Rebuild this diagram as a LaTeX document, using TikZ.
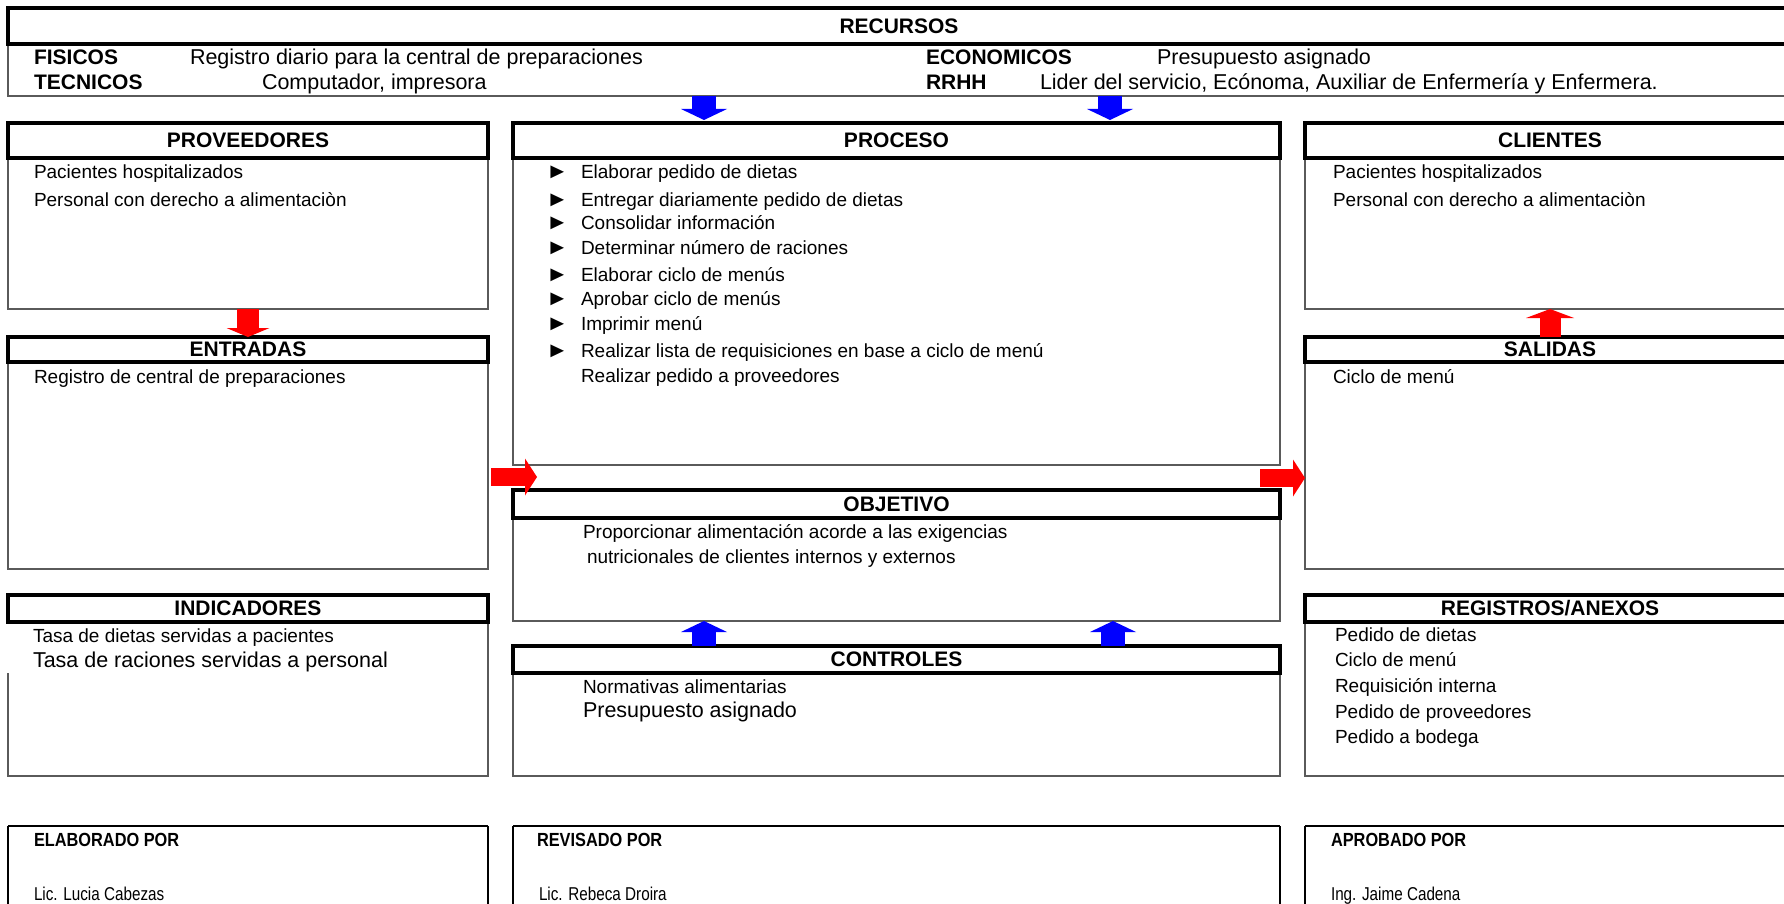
\documentclass[tikz,border=0pt]{standalone}
\usepackage{fontspec}
\setmainfont{Liberation Sans}
\newfontfamily\narrowfont[FakeStretch=0.82]{Liberation Sans}
\newfontfamily\narrowboldfont[FakeStretch=0.86]{Liberation Sans Bold}
\usetikzlibrary{arrows.meta}

\definecolor{arrred}{RGB}{255,0,0}
\definecolor{arrblue}{RGB}{0,0,255}
\definecolor{edgegray}{RGB}{90,90,90}

\newcommand\fbody{\fontsize{9.5}{11}\selectfont}
\newcommand\fbig{\fontsize{10.75}{13}\selectfont}
\newcommand\fhead{\bfseries\fontsize{10.5}{12}\selectfont}
\newcommand\ffoot{\narrowfont\fontsize{9.3}{11}\selectfont}
\newcommand\ffoothead{\narrowboldfont\fontsize{9.5}{11}\selectfont}

% \panel{style}{name}{x1}{y1}{x2}{y2}{text}: rectangle from corner (x1,y1) to (x2,y2)
\newcommand\panel[7]{%
  \node[#1, anchor=north west, minimum width={0.5pt*(#5-#3)},
        minimum height={0.5pt*(#6-#4)}] (#2) at (#3,#4) {#7};}

\tikzset{
  every node/.style={inner sep=0pt, outer sep=0pt},
  hdr/.style={draw=black, line width=1.6pt, fill=white, font=\fhead},
  bdy/.style={draw=edgegray, line width=0.7pt},
  blank/.style={},
  txt/.style={anchor=base west, font=\fbody},
  bigtxt/.style={anchor=base west, font=\fbig},
  lbl/.style={anchor=base west, font=\fhead},
  bul/.style={anchor=base west, font=\fontsize{10.8}{12}\selectfont},
  foottxt/.style={anchor=base west, font=\ffoot},
  foothead/.style={anchor=base west, font=\ffoothead},
  footside/.style={draw=black, line width=0.6pt},
  foottop/.style={draw=black, line width=1.3pt},
  bluearrow/.style={draw=arrblue, line width=12pt,
    -{Triangle[width=23pt,length=5.5pt,line width=0pt]}},
  reddown/.style={draw=arrred, line width=11pt,
    -{Triangle[width=21.5pt,length=4.5pt,line width=0pt]}},
  redup/.style={draw=arrred, line width=10.5pt,
    -{Triangle[width=24pt,length=4.5pt,line width=0pt]}},
  redright/.style={draw=arrred, line width=9pt,
    -{Triangle[width=18.5pt,length=6pt,line width=0pt]}},
}

\begin{document}
\begin{tikzpicture}[x=0.5pt, y=-0.5pt]
\useasboundingbox (0,0) rectangle (1784,904);
\clip (0,0) rectangle (1784,904);
\fill[white] (0,0) rectangle (1784,904);

% ---------- resources band ----------
\panel{bdy}{rb}{8}{44}{1790}{96}{}
\panel{hdr}{rh}{8}{8}{1790}{44}{RECURSOS}
\node[lbl] (fis) at (34,65) {FISICOS};
\node[bigtxt] (fist) at (190,65) {Registro diario para la central de preparaciones};
\node[lbl] (tec) at (34,90) {TECNICOS};
\node[bigtxt] (tect) at (262,90) {Computador, impresora};
\node[lbl] (eco) at (926,65) {ECONOMICOS};
\node[bigtxt] (ecot) at (1157,65) {Presupuesto asignado};
\node[lbl] (rrhh) at (926,90) {RRHH};
\node[bigtxt] (rrhht) at (1040,90) {Lider del servicio, Ecónoma, Auxiliar de Enfermería y Enfermera.};

% ---------- box bodies ----------
\panel{bdy}{pvb}{8}{158}{488}{309}{}
\panel{bdy}{prb}{513}{158}{1280}{465}{}
\panel{bdy}{clb}{1305}{158}{1795}{309}{}
\panel{bdy}{enb}{8}{362}{488}{569}{}
\panel{bdy}{sab}{1305}{362}{1795}{569}{}
\panel{bdy}{obb}{513}{518}{1280}{621}{}
\panel{blank}{inb}{8}{622}{488}{776}{}
\draw[bdy] (inb.north east) |- (inb.south west) -- ++(0,-103);
\panel{bdy}{cob}{513}{673}{1280}{776}{}
\panel{bdy}{reb}{1305}{622}{1795}{776}{}

% ---------- box headers ----------
\panel{hdr}{pvh}{8}{123}{488}{158}{PROVEEDORES}
\panel{hdr}{prh}{513}{123}{1280}{158}{PROCESO}
\panel{hdr}{clh}{1305}{123}{1795}{158}{CLIENTES}
\panel{hdr}{enh}{8}{337}{488}{362}{ENTRADAS}
\panel{hdr}{sah}{1305}{337}{1795}{362}{SALIDAS}
\panel{hdr}{obh}{513}{490}{1280}{518}{OBJETIVO}
\panel{hdr}{inh}{8}{595}{488}{622}{INDICADORES}
\panel{hdr}{coh}{513}{646}{1280}{673}{CONTROLES}
\panel{hdr}{reh}{1305}{595}{1795}{622}{REGISTROS/ANEXOS}

% ---------- box contents ----------
\node[txt] (pv1) at (34,178) {Pacientes hospitalizados};
\node[txt] (pv2) at (34,206) {Personal con derecho a alimentaciòn};

\foreach \yy/\tt [count=\i] in {178/Elaborar pedido de dietas,
    206/Entregar diariamente pedido de dietas,
    229/Consolidar información,
    254/Determinar número de raciones,
    281/Elaborar ciclo de menús,
    305/Aprobar ciclo de menús,
    330/Imprimir menú,
    357/Realizar lista de requisiciones en base a ciclo de menú}{
  \node[bul] (pb\i) at (546,\yy) {\scalebox{1.05}[1]{►}};
  \node[txt] (pt\i) at (581,\yy) {\tt};
}
\node[txt] (pt9) at (581,382) {Realizar pedido a proveedores};

\node[txt] (cl1) at (1333,178) {Pacientes hospitalizados};
\node[txt] (cl2) at (1333,206) {Personal con derecho a alimentaciòn};

\node[txt] (en1) at (34,383) {Registro de central de preparaciones};
\node[txt] (sa1) at (1333,383) {Ciclo de menú};

\node[txt] (ob1) at (583,538) {Proporcionar alimentación acorde a las exigencias};
\node[txt] (ob2) at (587,563) {nutricionales de clientes internos y externos};

\node[txt] (in1) at (33,642) {Tasa de dietas servidas a pacientes};
\node[bigtxt] (in2) at (33,667) {Tasa de raciones servidas a personal};

\node[txt] (co1) at (583,693) {Normativas alimentarias};
\node[bigtxt] (co2) at (583,717) {Presupuesto asignado};

\node[txt] (re1) at (1335,641) {Pedido de dietas};
\node[txt] (re2) at (1335,666) {Ciclo de menú};
\node[txt] (re3) at (1335,692) {Requisición interna};
\node[txt] (re4) at (1335,718) {Pedido de proveedores};
\node[txt] (re5) at (1335,743) {Pedido a bodega};

% ---------- signature boxes ----------
\foreach \nm/\xa/\xb in {ela/8/488, rev/513/1280, apr/1305/1795}{
  \panel{blank}{\nm}{\xa}{826}{\xb}{930}{}
  \draw[footside] (\nm.north west) -- (\nm.south west);
  \draw[footside] (\nm.north east) -- (\nm.south east);
  \draw[foottop] (\nm.north west) -- (\nm.north east);
}
\node[foothead] (elat) at (34,846) {ELABORADO POR};
\node[foottxt] (elan) at (34,900) {Lic. Lucia Cabezas};
\node[foothead] (revt) at (537,846) {REVISADO POR};
\node[foottxt] (revn) at (539,900) {Lic. Rebeca Droira};
\node[foothead] (aprt) at (1331,846) {APROBADO POR};
\node[foottxt] (aprn) at (1331,900) {Ing. Jaime Cadena};

% ---------- block arrows ----------
\coordinate (ax1) at (704,0);
\coordinate (ax2) at (1110,0);
\coordinate (ax3) at (1113,0);
\coordinate (ax4) at (248,0);
\coordinate (ax5) at (1550,0);
\coordinate (ay1) at (0,477);
\coordinate (ay2) at (0,478);

\draw[bluearrow, shorten >=1.5pt] (rb.south -| ax1) -- (prh.north -| ax1);
\draw[bluearrow, shorten >=1.5pt] (rb.south -| ax2) -- (prh.north -| ax2);
\draw[bluearrow] (coh.north -| ax1) -- (obb.south -| ax1);
\draw[bluearrow] (coh.north -| ax3) -- (obb.south -| ax3);
\draw[reddown] (pvb.south -| ax4) -- (enh.north -| ax4);
\draw[redup] (sah.north -| ax5) -- (clb.south -| ax5);
\draw[redright] ([xshift=1.5pt]enb.east |- ay1) -- ([xshift=12pt]prb.west |- ay1);
\draw[redright] ([xshift=-10pt]prb.east |- ay2) -- (sab.west |- ay2);
\end{tikzpicture}
\end{document}
